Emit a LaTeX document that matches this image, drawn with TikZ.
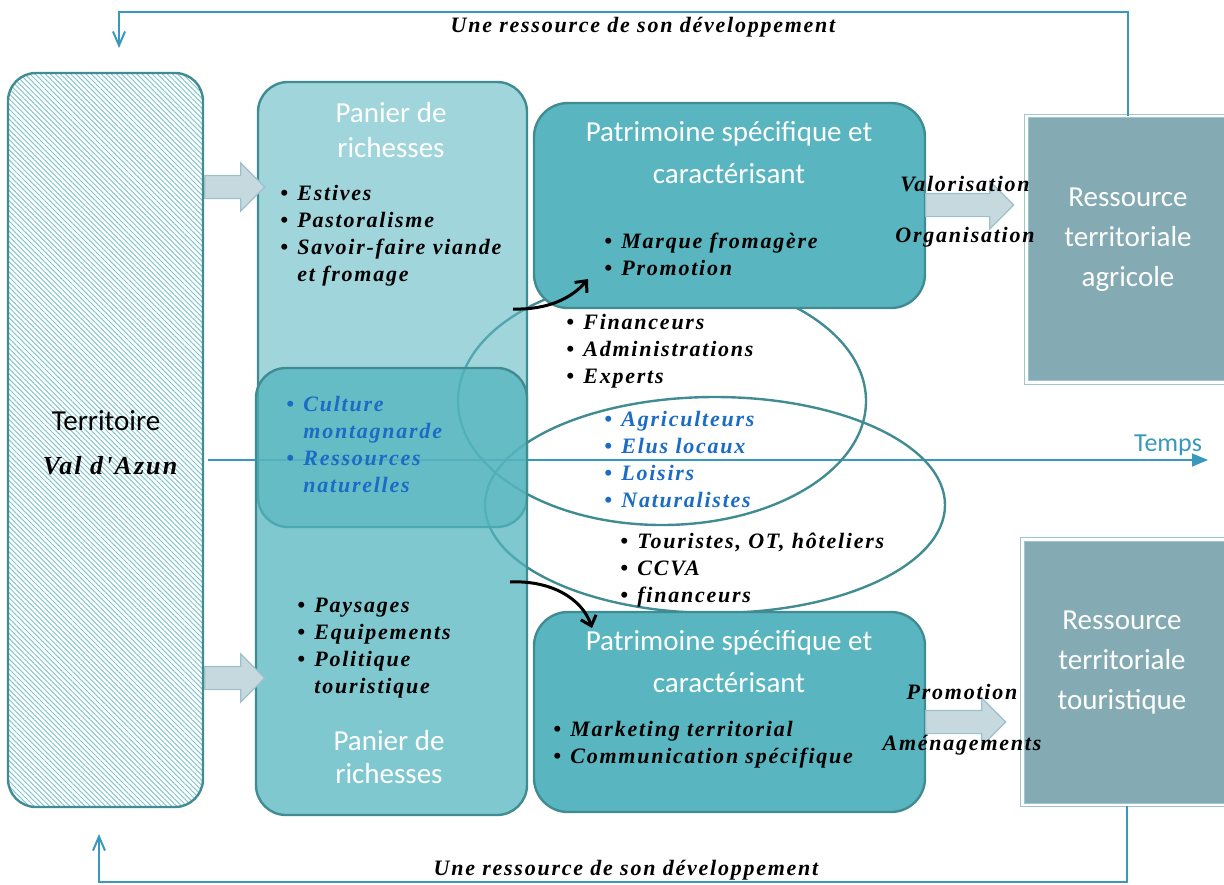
\documentclass[tikz,border=0pt]{standalone}
\usepackage{fontspec}
\setmainfont{Carlito}
\newfontfamily\handfont[LetterSpace=8]{Liberation Serif}
\usepackage{xcolor}
\usepackage{tikz}
\usetikzlibrary{arrows.meta,shapes.arrows,patterns.meta}
\definecolor{tealdark}{RGB}{64,140,146}
\definecolor{panierA}{RGB}{97,185,195}
\definecolor{panierB}{RGB}{81,180,189}
\definecolor{patri}{RGB}{89,181,191}
\definecolor{resso}{RGB}{132,170,179}
\definecolor{ressoline}{RGB}{160,198,208}
\definecolor{blocfill}{RGB}{197,217,223}
\definecolor{blocline}{RGB}{158,192,201}
\definecolor{hachure}{RGB}{130,198,207}
\definecolor{fbline}{RGB}{58,152,188}
\definecolor{bleu}{RGB}{26,108,196}
\newcommand{\itm}[1]{\makebox[8.5pt][l]{\textbullet}#1}
\newcommand{\suite}[1]{\hspace*{8.5pt}#1}

\begin{document}
\begin{tikzpicture}[x=0.5pt,y=-0.5pt,
  titre/.style={font=\fontsize{14.5}{17.5}\selectfont, text=white, align=center, inner sep=0pt},
  liste/.style={font=\handfont\bfseries\itshape\fontsize{11}{13.5}\selectfont, align=left, inner sep=0pt, anchor=west},
  mot/.style={font=\handfont\bfseries\itshape\fontsize{11}{13.5}\selectfont, inner sep=0pt},
  panier/.style={rounded corners=15pt, draw=tealdark, line width=1.2pt},
  patrimoine/.style={rounded corners=17pt, draw=tealdark, line width=1.2pt, fill=patri, minimum width=195.5pt},
  ressource/.style={fill=resso, draw=ressoline, double=white, double distance=1.2pt, line width=0.5pt},
  bloc/.style={single arrow, single arrow head extend=6.25pt, minimum width=23.5pt, inner xsep=0pt, inner ysep=5.5pt, fill=blocfill, draw=blocline, line width=0.6pt},
  retour/.style={draw=fbline, line width=1pt, -{Straight Barb[length=7pt,width=6pt]}}]
\useasboundingbox (0,0) rectangle (1224,884);
\clip (0,0) rectangle (1224,884);
% axe du temps
\coordinate (t0) at (208,460);
\coordinate (t1) at (1208,460);
\draw[fbline, line width=0.7pt, -{Triangle[length=8pt,width=6.5pt]}] (t0) -- (t1);
\node[font=\fontsize{13}{13}\selectfont, text=fbline, inner sep=0pt] (temps) at (1168,445) {Temps};
% acteurs
\draw[tealdark, line width=1.2pt] (662,401) ellipse [x radius=204, y radius=124];
\draw[tealdark, line width=1.2pt] (715,505) ellipse [x radius=230, y radius=108];
% paniers et patrimoines
\node[panier, fill=panierA, fill opacity=0.6, minimum width=134.5pt, minimum height=222.5pt] (panagri) at (392.5,304.5) {};
\node[panier, fill=panierB, fill opacity=0.73, minimum width=135.5pt, minimum height=223.5pt] (pantour) at (391.5,591.5) {};
\node[patrimoine, minimum height=102.5pt] (patagri) at (729.5,205.5) {};
\node[patrimoine, minimum height=100pt] (pattour) at (729.5,712) {};
\node[draw=tealdark, line width=1.2pt, rounded corners=14pt, pattern={Lines[angle=-45,distance=1.8pt,line width=0.5pt]}, pattern color=hachure, minimum width=97.5pt, minimum height=367pt] (terr) at (105.5,440) {};
\node[ressource, minimum width=101.75pt, minimum height=133.25pt] (ressagri) at (1128.25,249.25) {};
\node[ressource, minimum width=104.75pt, minimum height=132.75pt] (resstour) at (1127.25,672.25) {};
% fleches
\node[bloc, minimum height=30pt] (fl1) at (229,187) {};
\node[bloc, minimum height=30pt] (fl2) at (229,678) {};
\node[bloc, minimum height=44pt] (fl3) at (964,205) {};
\node[bloc, minimum height=40pt] (fl4) at (960,722) {};
\coordinate (c1a) at (513,309); \coordinate (c1b) at (588,279);
\coordinate (c2a) at (510,582); \coordinate (c2b) at (592,628);
\draw[line width=1.5pt, -{Straight Barb[length=4.5pt,width=8pt]}] (c1a) .. controls (548,310) and (572,298) .. (c1b);
\draw[line width=1.5pt, -{Straight Barb[length=4.5pt,width=8pt]}] (c2a) .. controls (550,580) and (582,598) .. (c2b);
\coordinate (hautg) at (119,12); \coordinate (hautf) at (119,48);
\coordinate (basg) at (99,882); \coordinate (basf) at (99,834);
\draw[retour] (ressagri.north) |- (hautg) -- (hautf);
\draw[retour] (resstour.south) |- (basg) -- (basf);
% textes
\node[inner sep=0pt, font=\fontsize{14.5}{17}\selectfont] (tterr) at (106,421) {Territoire};
\node[mot, font=\handfont\bfseries\itshape\fontsize{13}{14}\selectfont] (tval) at (110,466) {Val d'Azun};
\node[titre] (titagri) at (391,130) {Panier de\\richesses};
\node[titre, font=\fontsize{14.5}{16.5}\selectfont] (tittour) at (389,757) {Panier de\\richesses};
\node[titre, font=\fontsize{14.5}{21}\selectfont] (tpatagri) at (729,153) {Patrimoine spécifique et\\caractérisant};
\node[titre, font=\fontsize{14.5}{21}\selectfont] (tpattour) at (729,662) {Patrimoine spécifique et\\caractérisant};
\node[titre, font=\fontsize{14.5}{20}\selectfont] (tressagri) at (1128,240) {Ressource\\territoriale\\agricole};
\node[titre, font=\fontsize{14.5}{20}\selectfont] (tresstour) at (1122,663) {Ressource\\territoriale\\touristique};
\node[liste] (listagri) at (280,236) {\itm{Estives}\\\itm{Pastoralisme}\\\itm{Savoir-faire viande}\\\suite{et fromage}};
\node[liste, text=bleu] (listcomm) at (286,444) {\itm{Culture}\\\suite{montagnarde}\\\itm{Ressources}\\\suite{naturelles}};
\node[liste] (listtour) at (297,648) {\itm{Paysages}\\\itm{Equipements}\\\itm{Politique}\\\suite{touristique}};
\node[liste] (listpatagri) at (604,254) {\itm{Marque fromagère}\\\itm{Promotion}};
\node[liste] (listpattour) at (553,745) {\itm{Marketing territorial}\\\itm{Communication spécifique}};
\node[liste] (actagri) at (566,351) {\itm{Financeurs}\\\itm{Administrations}\\\itm{Experts}};
\node[liste, text=bleu] (actcomm) at (604,459) {\itm{Agriculteurs}\\\itm{Elus locaux}\\\itm{Loisirs}\\\itm{Naturalistes}};
\node[liste] (acttour) at (620,570) {\itm{Touristes, OT, hôteliers}\\\itm{CCVA}\\\itm{financeurs}};
\node[mot] (valo) at (965,184) {Valorisation};
\node[mot] (orga) at (965,237) {Organisation};
\node[mot] (promo) at (962,692) {Promotion};
\node[mot] (amen) at (962,745) {Aménagements};
\node[mot] (ressh) at (643,27) {Une ressource de son développement};
\node[mot] (ressb) at (626,870) {Une ressource de son développement};
\end{tikzpicture}
\end{document}
